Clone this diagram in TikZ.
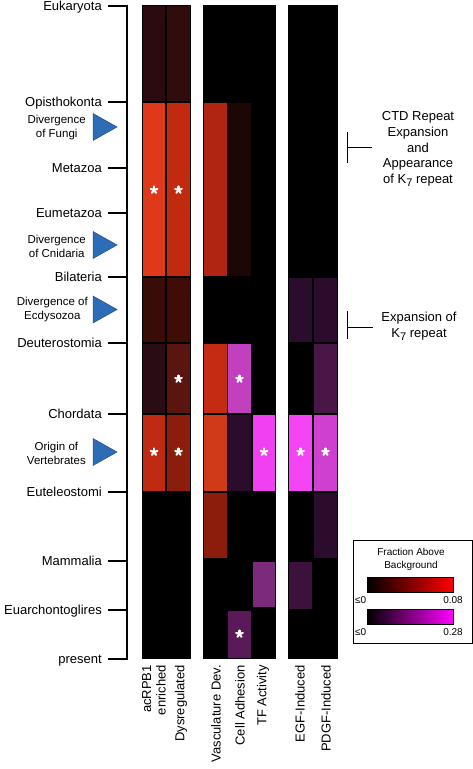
\documentclass[tikz,border=0pt]{standalone}
\usepackage{fontspec}
\setmainfont{Liberation Sans}
\definecolor{triblue}{HTML}{2E6DB6}
\definecolor{triedge}{HTML}{1D4C8A}
\definecolor{ra}{HTML}{2B0B10}
\definecolor{rb}{HTML}{300C0C}
\definecolor{rc}{HTML}{E0381A}
\definecolor{rd}{HTML}{C22A10}
\definecolor{re}{HTML}{3A0C08}
\definecolor{rf}{HTML}{400C05}
\definecolor{rg}{HTML}{2A0C14}
\definecolor{rh}{HTML}{5A1510}
\definecolor{ri}{HTML}{C02A12}
\definecolor{rj}{HTML}{8A1D0C}
\definecolor{rk}{HTML}{B02512}
\definecolor{rl}{HTML}{C42B12}
\definecolor{rm}{HTML}{D03A18}
\definecolor{rn}{HTML}{8C1C0C}
\definecolor{ro}{HTML}{1C0606}
\definecolor{pa}{HTML}{C040C0}
\definecolor{pb}{HTML}{2C0C2C}
\definecolor{pc}{HTML}{5A1A5A}
\definecolor{pd}{HTML}{F040F0}
\definecolor{pe}{HTML}{7C2A7C}
\definecolor{pf}{HTML}{F444F4}
\definecolor{pg}{HTML}{3C123C}
\definecolor{ph}{HTML}{4A1648}
\definecolor{pi}{HTML}{D040D0}
\newcommand\hcell[5]{\fill[#5] (#1+0.7,#3+0.7) rectangle (#2-0.7,#4-0.7);}
\newcommand\hstar[2]{\foreach \a in {-90,-18,54,126,198} \draw[white, line width=2.1pt, line cap=round] (#1,#2) -- ++(\a:3.5);}
\newcommand\ksub{K\raisebox{-3pt}{\fontsize{11}{11}\selectfont 7}}
\begin{document}
\begin{tikzpicture}[x=1pt,y=-1pt,
  lab/.style={font=\fontsize{13}{15.7}\selectfont, inner sep=0pt},
  tlab/.style={font=\fontsize{11.5}{14}\selectfont, align=center, inner sep=0pt, anchor=east},
  blab/.style={font=\fontsize{13}{14.5}\selectfont, rotate=90, anchor=east, inner sep=0pt, align=right},
  leg/.style={font=\fontsize{10}{13}\selectfont, inner sep=0pt},
  axisline/.style={line width=2.2pt},
  tri/.style={fill=triblue, draw=triedge, line width=0.5pt},
  brk/.style={line width=1pt}]
\useasboundingbox (0,0) rectangle (473,769);
\fill[white] (0,0) rectangle (473,769);
% axis
\draw[axisline] (127,5) -- (127,660);
\foreach \y/\n/\t in {6/euk/Eukaryota, 102/opi/Opisthokonta, 168/met/Metazoa, 213/eum/Eumetazoa, 277/bil/Bilateria, 343/deu/Deuterostomia, 414/cho/Chordata, 492/eut/Euteleostomi, 561/mam/Mammalia, 610/eua/Euarchontoglires, 659/pre/present} {
  \coordinate (t\n) at (108,\y);
  \coordinate (a\n) at (127,\y);
  \draw[axisline] (t\n) -- (a\n);
  \node[lab, anchor=base east] (\n) at (102,\y+4.5) {\t};
}
% triangles
\foreach \y in {127,245,309.5,452} {
  \fill[tri] (93,\y-13.5) -- (117,\y) -- (93,\y+13.5) -- cycle;
}
\node[tlab] (dfun) at (86,128) {Divergence\\of Fungi};
\node[tlab] (dcni) at (86,246) {Divergence\\of Cnidaria};
\node[tlab] (decd) at (88,310) {Divergence of\\Ecdysozoa};
\node[tlab] (overt) at (86,453) {Origin of\\Vertebrates};
% heatmap backgrounds
\fill[black] (142,5) rectangle (191,659);
\fill[black] (203,5) rectangle (276,659);
\fill[black] (288,5) rectangle (338,659);
% column 1
\hcell{142}{166}{5}{102}{ra}
\hcell{142}{166}{102}{277}{rc}
\hcell{142}{166}{277}{343}{re}
\hcell{142}{166}{343}{414}{rg}
\hcell{142}{166}{414}{492}{ri}
% column 2
\hcell{166}{191}{5}{102}{rb}
\hcell{166}{191}{102}{277}{rd}
\hcell{166}{191}{277}{343}{rf}
\hcell{166}{191}{343}{414}{rh}
\hcell{166}{191}{414}{492}{rj}
% column 3
\hcell{203}{227.5}{102}{277}{rk}
\hcell{203}{227.5}{343}{414}{rl}
\hcell{203}{227.5}{414}{492}{rm}
\hcell{203}{227.5}{492}{559}{rn}
% column 4
\hcell{227.5}{252}{102}{277}{ro}
\hcell{227.5}{252}{343}{414}{pa}
\hcell{227.5}{252}{414}{492}{pb}
\hcell{227.5}{252}{610}{659}{pc}
% column 5
\hcell{252}{276}{414}{492}{pd}
\hcell{252}{276}{561}{608}{pe}
% column 6
\hcell{288}{313}{277}{343}{pb}
\hcell{288}{313}{414}{492}{pf}
\hcell{288}{313}{561}{610}{pg}
% column 7
\hcell{313}{338}{277}{343}{pb}
\hcell{313}{338}{343}{414}{ph}
\hcell{313}{338}{414}{492}{pi}
\hcell{313}{338}{492}{559}{pb}
% stars
\hstar{154}{190}
\hstar{178.5}{190}
\hstar{178.5}{379}
\hstar{154}{452}
\hstar{178.5}{452}
\hstar{239.5}{379}
\hstar{264}{452}
\hstar{300.5}{452}
\hstar{325.5}{452}
\hstar{239.5}{634}
% bottom labels
\node[blab] (lacr) at (154,665) {acRPB1\\enriched};
\node[blab] (ldys) at (181,665) {Dysregulated};
\node[blab] (lvas) at (216,665) {Vasculature Dev.};
\node[blab] (lcel) at (240,665) {Cell Adhesion};
\node[blab] (ltf) at (263,665) {TF Activity};
\node[blab] (legf) at (300,665) {EGF-Induced};
\node[blab] (lpdg) at (326,665) {PDGF-Induced};
% annotations
\node[lab, align=center] (ctd) at (418,149) {CTD Repeat\\Expansion\\and\\Appearance\\of \ksub{} repeat};
\coordinate (b1t) at (347,132);
\coordinate (b1b) at (347,163);
\coordinate (b1m) at (347,147.5);
\coordinate (b1e) at (372,147.5);
\draw[brk] (b1t) -- (b1b);
\draw[brk] (b1m) -- (b1e);
\node[lab, align=center] (expk) at (419,326) {Expansion of\\\ksub{} repeat};
\coordinate (b2t) at (347,311);
\coordinate (b2b) at (347,339);
\coordinate (b2m) at (347,327);
\coordinate (b2e) at (373,327);
\draw[brk] (b2t) -- (b2b);
\draw[brk] (b2m) -- (b2e);
% legend
\draw[line width=1pt, fill=white] (353,540) rectangle (472,643);
\node[leg, align=center] (ltitle) at (411,559.5) {Fraction Above\\Background};
\shade[left color=black, right color=red] (367,577) rectangle (453,592);
\draw[line width=0.8pt] (367,577) rectangle (453,592);
\shade[left color=black, right color=magenta] (367,609) rectangle (453,624);
\draw[line width=0.8pt] (367,609) rectangle (453,624);
\node[leg, anchor=west] (l0a) at (355,600.5) {≤0};
\node[leg, anchor=east] (l8) at (463,600.5) {0.08};
\node[leg, anchor=west] (l0b) at (355,632.5) {≤0};
\node[leg, anchor=east] (l28) at (463,632.5) {0.28};
\end{tikzpicture}
\end{document}
